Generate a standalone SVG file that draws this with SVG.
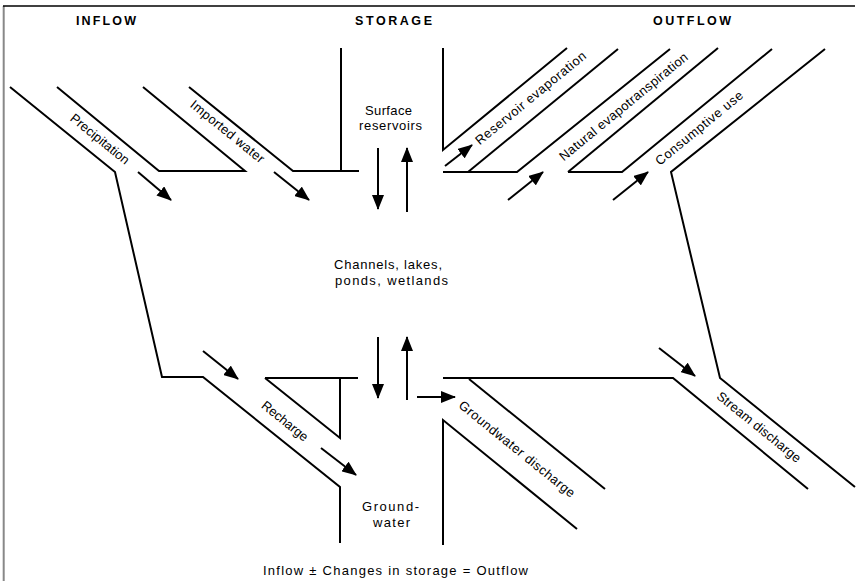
<svg xmlns="http://www.w3.org/2000/svg" width="860" height="581" viewBox="0 0 860 581">
<style>
text{font-family:"Liberation Sans",Arial,sans-serif;fill:#000}
.hdr{font-size:12.5px;font-weight:bold}
.lbl{font-size:13px}
.rl{font-size:13px}
.ln{fill:none;stroke:#000;stroke-width:2;stroke-linejoin:miter}
.ar{fill:none;stroke:#000;stroke-width:2;marker-end:url(#ah)}
</style>
<defs>
<marker id="ah" markerWidth="15" markerHeight="12" refX="14" refY="6" orient="auto" markerUnits="userSpaceOnUse">
<path d="M0,0 L15,6 L0,12 z" fill="#000"/>
</marker>
</defs>
<rect width="860" height="581" fill="#fff"/>
<g id="frame">
<line x1="3.7" y1="6" x2="3.7" y2="581" stroke="#888" stroke-width="2"/>
<line x1="3" y1="6" x2="855" y2="6" stroke="#000" stroke-width="1.6"/>
</g>
<g id="headers">
<text class="hdr" x="76" y="25" textLength="60" lengthAdjust="spacing">INFLOW</text>
<text class="hdr" x="355" y="25" textLength="77" lengthAdjust="spacing">STORAGE</text>
<text class="hdr" x="653" y="25" textLength="78" lengthAdjust="spacing">OUTFLOW</text>
</g>
<g id="connectors">
<polyline class="ln" points="10,87 115,172 162,377 203,377 340,487 340,543"/>
<polyline class="ln" points="57,87 159,171 245,171 143,87"/>
<polyline class="ln" points="189,87 293,171 359,171"/>
<polyline class="ln" points="341,48 341,171"/>
<polyline class="ln" points="443,48 443,150 567,48"/>
<polyline class="ln" points="468,172 618,49"/>
<polyline class="ln" points="443,172 517,172 670,49"/>
<polyline class="ln" points="568,172 718,48"/>
<polyline class="ln" points="568,172 622,172 772,49"/>
<polyline class="ln" points="825,49 671,172 720,378 855,487"/>
<polyline class="ln" points="443,378 673,378 808,489"/>
<polyline class="ln" points="469,379 605,489"/>
<polyline class="ln" points="443,545 443,420 577,529"/>
<polyline class="ln" points="265,378 358,378"/>
<polyline class="ln" points="265,378 340,438 340,378"/>
<line class="ar" x1="138" y1="172" x2="171" y2="200"/>
<line class="ar" x1="274" y1="172" x2="309" y2="200"/>
<line class="ar" x1="378" y1="148" x2="378" y2="209"/>
<line class="ar" x1="407" y1="212" x2="407" y2="148"/>
<line class="ar" x1="445" y1="166" x2="472" y2="145"/>
<line class="ar" x1="508" y1="200" x2="543" y2="172"/>
<line class="ar" x1="613" y1="200" x2="648" y2="172"/>
<line class="ar" x1="203" y1="351" x2="238" y2="379"/>
<line class="ar" x1="321" y1="448" x2="356" y2="475"/>
<line class="ar" x1="378" y1="337" x2="378" y2="398"/>
<line class="ar" x1="407" y1="400" x2="407" y2="337"/>
<line class="ar" x1="417" y1="397" x2="455" y2="397"/>
<line class="ar" x1="659" y1="348" x2="695" y2="376"/>
</g>
<g id="node-surface-reservoirs">
<text class="lbl" x="365" y="115" textLength="47" lengthAdjust="spacing">Surface</text>
<text class="lbl" x="359" y="130" textLength="63" lengthAdjust="spacing">reservoirs</text>
</g>
<g id="node-channels">
<text class="lbl" x="334" y="269" textLength="108" lengthAdjust="spacing">Channels, lakes,</text>
<text class="lbl" x="335" y="285" textLength="113" lengthAdjust="spacing">ponds, wetlands</text>
</g>
<g id="node-groundwater">
<text class="lbl" x="362" y="511" textLength="57" lengthAdjust="spacing">Ground-</text>
<text class="lbl" x="373" y="527" textLength="37" lengthAdjust="spacing">water</text>
</g>
<g id="label-precipitation"><text class="rl" transform="translate(100,139) rotate(39)" x="-36" y="4.5" textLength="72" lengthAdjust="spacing">Precipitation</text></g>
<g id="label-imported-water"><text class="rl" transform="translate(227.5,131.5) rotate(39)" x="-45.5" y="4.5" textLength="91" lengthAdjust="spacing">Imported water</text></g>
<g id="label-reservoir-evaporation"><text class="rl" transform="translate(530.5,98) rotate(-39.4)" x="-69.5" y="4.5" textLength="139" lengthAdjust="spacing">Reservoir evaporation</text></g>
<g id="label-natural-evapotranspiration"><text class="rl" transform="translate(623.5,106.5) rotate(-39.4)" x="-81" y="4.5" textLength="162" lengthAdjust="spacing">Natural evapotranspiration</text></g>
<g id="label-consumptive-use"><text class="rl" transform="translate(699,128) rotate(-39.4)" x="-54.5" y="4.5" textLength="109" lengthAdjust="spacing">Consumptive use</text></g>
<g id="label-recharge"><text class="rl" transform="translate(285,421) rotate(39)" x="-28" y="4.5" textLength="56" lengthAdjust="spacing">Recharge</text></g>
<g id="label-groundwater-discharge"><text class="rl" transform="translate(517,449) rotate(39)" x="-72.5" y="4.5" textLength="145" lengthAdjust="spacing">Groundwater discharge</text></g>
<g id="label-stream-discharge"><text class="rl" transform="translate(759,427) rotate(39)" x="-52" y="4.5" textLength="104" lengthAdjust="spacing">Stream discharge</text></g>
<g id="equation">
<text class="lbl" x="263" y="575" textLength="265" lengthAdjust="spacing">Inflow ± Changes in storage = Outflow</text>
</g>
</svg>
